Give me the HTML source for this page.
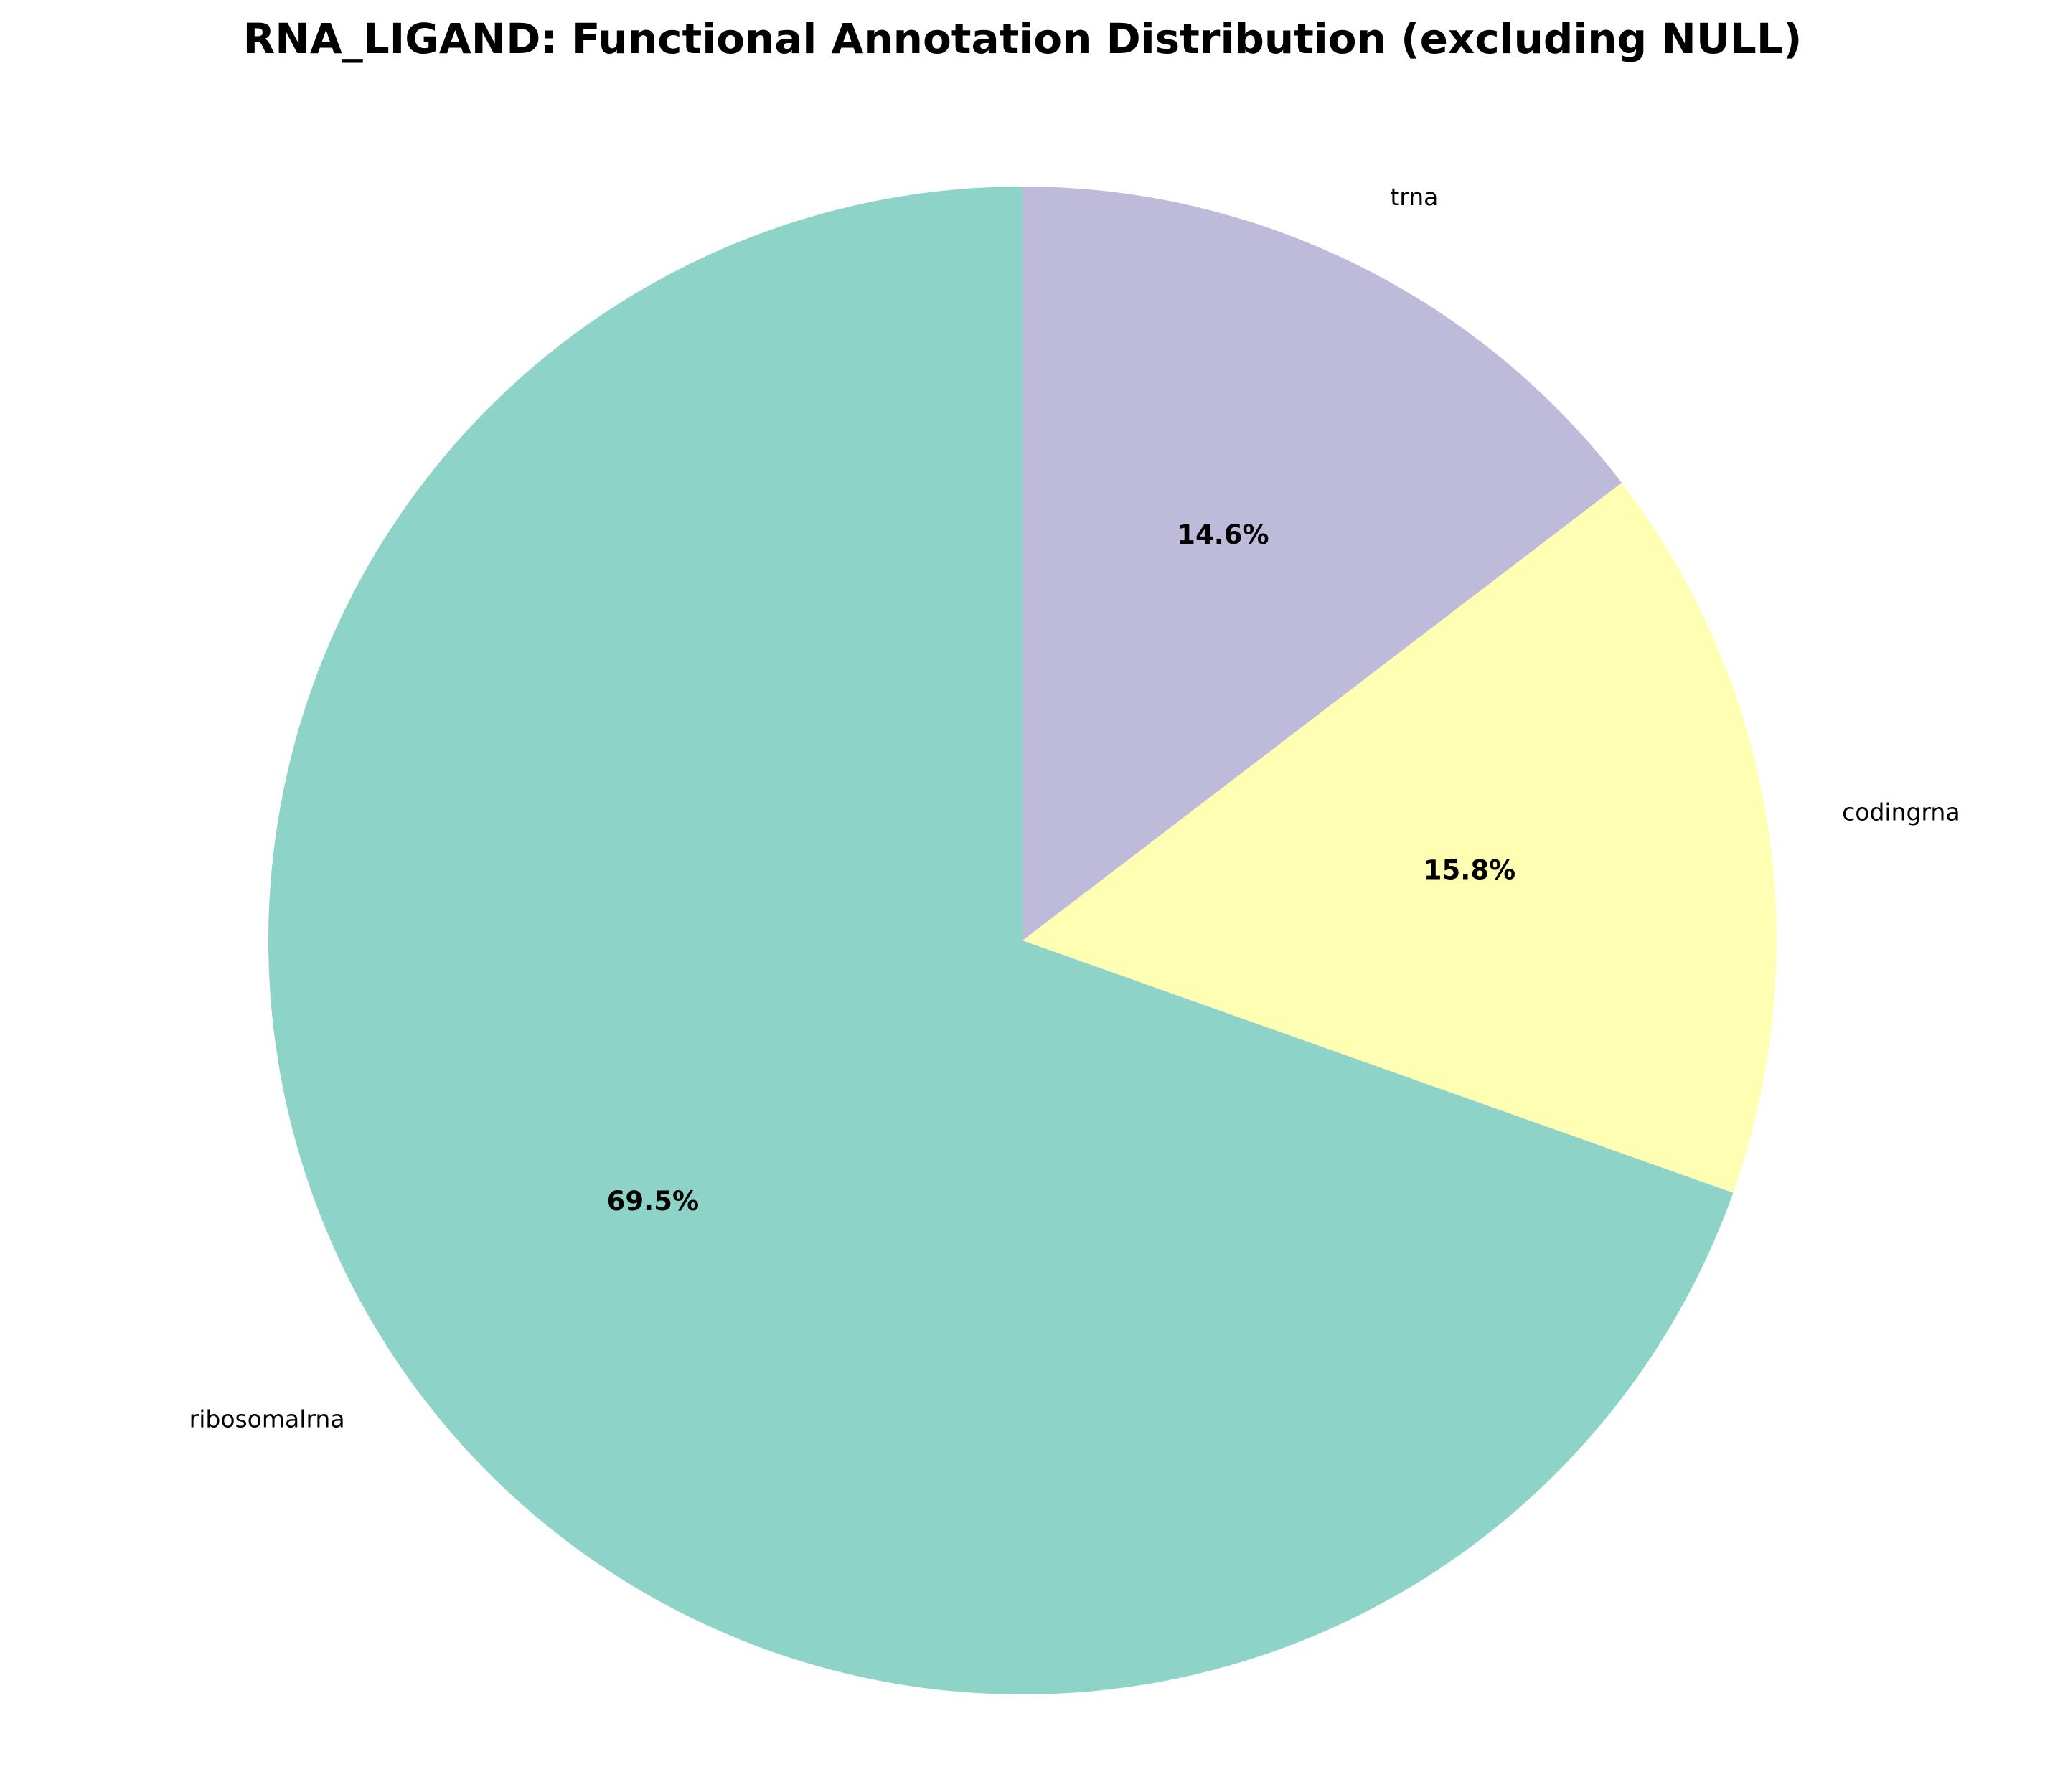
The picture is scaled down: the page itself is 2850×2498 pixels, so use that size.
<!DOCTYPE html>
<html>
<head>
<meta charset="utf-8">
<style>
  html,body{margin:0;padding:0;background:#fff;}
  svg{display:block;}
</style>
</head>
<body>
<svg id="chart" width="2850" height="2498" viewBox="0 0 2850 2498" xmlns="http://www.w3.org/2000/svg">
  <rect width="2850" height="2498" fill="#ffffff"/>
  <text x="1425" y="74" text-anchor="middle" font-family="DejaVu Sans, Liberation Sans, sans-serif" font-weight="bold" font-size="58" fill="#000">RNA_LIGAND: Functional Annotation Distribution (excluding NULL)</text>
  <g id="slices"></g>
  <g id="labels"></g>
</svg>
<script>
const categories = ["ribosomalrna", "codingrna", "trna"];
const values = [69.5, 15.8, 14.6];
const colors = ["#8dd3c7", "#ffffb3", "#bebada"];

const cx = 1425, cy = 1311, r = 1051;
const NS = "http://www.w3.org/2000/svg";
const slicesG = document.getElementById("slices");
const labelsG = document.getElementById("labels");
const total = values.reduce((a, b) => a + b, 0);
function pt(deg, rad) {
  const a = deg * Math.PI / 180;
  return [cx + rad * Math.cos(a), cy - rad * Math.sin(a)];
}
let start = 90;
values.forEach((v, i) => {
  const sweep = v / total * 360;
  const end = start + sweep;
  const [x1, y1] = pt(start, r);
  const [x2, y2] = pt(end, r);
  const large = sweep > 180 ? 1 : 0;
  const path = document.createElementNS(NS, "path");
  path.setAttribute("d", `M${cx},${cy} L${x1},${y1} A${r},${r} 0 ${large} 0 ${x2},${y2} Z`);
  path.setAttribute("fill", colors[i]);
  
  
  slicesG.appendChild(path);

  const mid = start + sweep / 2;
  const [lx, ly] = pt(mid, r * 1.1);
  const lab = document.createElementNS(NS, "text");
  lab.setAttribute("x", lx);
  lab.setAttribute("y", ly);
  lab.setAttribute("text-anchor", lx > cx ? "start" : "end");
  lab.setAttribute("dominant-baseline", "central");
  lab.setAttribute("font-family", "DejaVu Sans, Liberation Sans, sans-serif");
  lab.setAttribute("font-size", "33");
  lab.textContent = categories[i];
  
  
  labelsG.appendChild(lab);

  const [px, py] = pt(mid, r * 0.6);
  const pct = document.createElementNS(NS, "text");
  pct.setAttribute("x", px);
  pct.setAttribute("y", py);
  pct.setAttribute("text-anchor", "middle");
  pct.setAttribute("dominant-baseline", "central");
  pct.setAttribute("font-family", "DejaVu Sans, Liberation Sans, sans-serif");
  pct.setAttribute("font-size", "37");
  pct.setAttribute("font-weight", "bold");
  pct.textContent = v.toFixed(1) + "%";
  
  
  labelsG.appendChild(pct);

  start = end;
});
</script>
</body>
</html>
